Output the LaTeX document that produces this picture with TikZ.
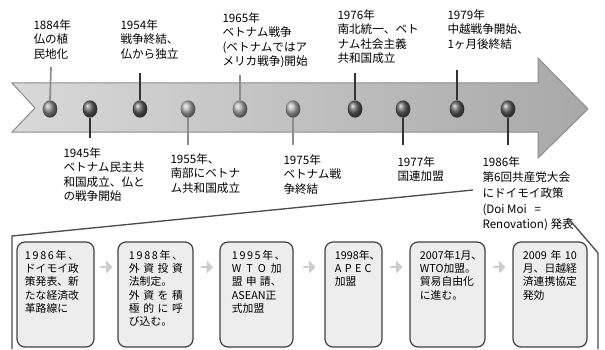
\documentclass[tikz,border=0pt]{standalone}
\usepackage{fontspec}
\newfontfamily\jpfont{Noto Sans CJK JP}
\usetikzlibrary{shapes.geometric,shapes.arrows,calc}
\newcommand\spr[2][5em]{\makebox[#1][s]{#2}}

\tikzset{every picture/.style={line width=0.75pt}}
\tikzset{
  lbl/.style={anchor=north west, inner sep=0.75pt, align=left, font=\jpfont\fontsize{8.7}{10.9}\selectfont},
  boxtxt/.style={anchor=north west, inner sep=0pt, align=left, font=\jpfont\fontsize{8.1}{10}\selectfont},
  ballD/.style={ellipse, minimum width=11pt, minimum height=13pt, inner sep=0pt, shading=ball, ball color=black!62},
  ballM/.style={ballD, ball color=black!45},
  ballL/.style={ballD, ball color=black!32},
  stemD/.style={draw=black!80, line width=1.3pt},
  stemL/.style={draw=black!45, line width=1.3pt},
  stepbox/.style={draw=black!75, line width=0.9pt, fill=black!7, rounded corners=6pt, minimum height=78.75pt, inner sep=0pt},
  steparrow/.style={single arrow, fill=black!20, inner sep=0pt, minimum width=9.5pt, minimum height=9pt, single arrow head extend=2.2pt, yshift=20.6pt},
  callout/.style={draw=black!70, line width=1pt}
}

\begin{document}
\begin{tikzpicture}[x=0.75pt,y=0.75pt,yscale=-1,xscale=1]
\useasboundingbox (0,0) rectangle (605,349);

%Shape: Arrow band
\shadedraw [left color=black!15, right color=black!34, draw=black!45] (12,83) -- (538,83) -- (538,58) -- (588,109) -- (538,158) -- (538,132) -- (12,132) -- (35,108) -- cycle ;

% Balls on the band
\node [ballM] (b1884) at (50,109) {};
\node [ballD] (b1945) at (90,109) {};
\node [ballD] (b1954) at (140,109) {};
\node [ballL] (b1955) at (188,109) {};
\node [ballL] (b1965) at (240,109) {};
\node [ballL] (b1975) at (293,109) {};
\node [ballD] (b1976) at (355,109) {};
\node [ballD] (b1977) at (403,109) {};
\node [ballD] (b1979) at (457,109) {};
\node [ballD] (b1986) at (508,109) {};

% Stem ends
\coordinate (s1884) at (51,67);
\coordinate (s1954) at (140,73);
\coordinate (s1965) at (240,75);
\coordinate (s1976) at (355,73);
\coordinate (s1979) at (457,70);
\coordinate (s1945) at (90,138);
\coordinate (s1955) at (188,145);
\coordinate (s1975) at (293,145);
\coordinate (s1977) at (403,145);
\coordinate (s1986) at (508,145);

%Straight Lines: stems
\draw [stemL] (s1884) -- (b1884.north) ;
\draw [stemD] (s1954) -- (b1954.north) ;
\draw [stemL] (s1965) -- (b1965.north) ;
\draw [stemD] (s1976) -- (b1976.north) ;
\draw [stemD] (s1979) -- (b1979.north) ;
\draw [stemD] (b1945.south) -- (s1945) ;
\draw [stemL] (b1955.south) -- (s1955) ;
\draw [stemL] (b1975.south) -- (s1975) ;
\draw [stemD] (b1977.south) -- (s1977) ;
\draw [stemD] (b1986.south) -- (s1986) ;

% Text Node
\draw (32,18) node [lbl] (t1884) {1884年\\仏の植\\民地化};
% Text Node
\draw (119,18) node [lbl] (t1954) {1954年\\戦争終結、\\仏から独立};
% Text Node
\draw (221,11) node [lbl] (t1965) {1965年\\ベトナム戦争\\(ベトナムではア\\メリカ戦争)開始};
% Text Node
\draw (336,8) node [lbl] (t1976) {1976年\\南北統一、ベト\\ナム社会主義\\共和国成立};
% Text Node
\draw (446,8) node [lbl] (t1979) {1979年\\中越戦争開始、\\1ヶ月後終結};
% Text Node
\draw (62,146) node [lbl] (t1945) {1945年\\ベトナム民主共\\和国成立、仏と\\の戦争開始};
% Text Node
\draw (169,152) node [lbl] (t1955) {1955年、\\南部にベトナ\\ム共和国成立};
% Text Node
\draw (282,153) node [lbl] (t1975) {1975年\\ベトナム戦\\争終結};
% Text Node
\draw (396,155) node [lbl] (t1977) {1977年\\国連加盟};
% Text Node
\draw (481,155) node [lbl, font=\jpfont\fontsize{8.7}{11.7}\selectfont] (t1986) {1986年\\第6回共産党大会\\にドイモイ政策\\(Doi Moi\ \ \ =\\Renovation) 発表};

% Callout frame
\coordinate (cl1) at (473,190);
\coordinate (cl2) at (12,236);
\coordinate (cl3) at (12,349);
\coordinate (cr1) at (568,218);
\coordinate (cr2) at (598,253);
\coordinate (cr3) at (598,349);
\draw [callout] (cl1) -- (cl2) -- (cl3) ;
\draw [callout] (cr1) -- (cr2) -- (cr3) ;

%Shape: Rounded boxes
\node [stepbox, minimum width=57.75pt] (box1) at (55.5,294.5) {};
\node [stepbox, minimum width=56.25pt] (box2) at (155.5,294.5) {};
\node [stepbox, minimum width=54.75pt] (box3) at (256.5,294.5) {};
\node [stepbox, minimum width=42.75pt] (box4) at (353.5,294.5) {};
\node [stepbox, minimum width=56.25pt] (box5) at (447.5,294.5) {};
\node [stepbox, minimum width=55.5pt] (box6) at (550,294.5) {};

% Box texts
\node [boxtxt] (x1986) at ($(box1.north west)+(8,8)$) {\spr{1 9 8 6 年 、}\\ドイモイ政\\策発表、新\\たな経済改\\革路線に};
\node [boxtxt] (x1988) at ($(box2.north west)+(11,8)$) {\spr{1 9 8 8 年 、}\\\spr{外 資 投 資}\\法制定。\\\spr{外 資 を 積}\\\spr{極 的 に 呼}\\び込む。};
\node [boxtxt] (x1995) at ($(box3.north west)+(12,8)$) {\spr[4.6em]{1 9 9 5 年 、}\\\spr[4.6em]{W T O 加}\\\spr[4.6em]{盟 申 請、}\\ASEAN正\\式加盟};
\node [boxtxt] (x1998) at ($(box4.north west)+(10,8)$) {1998年、\\\spr[3.4em]{A P E C}\\加盟};
\node [boxtxt] (x2007) at ($(box5.north west)+(10,8)$) {2007年1月、\\WTO加盟。\\貿易自由化\\に進む。};
\node [boxtxt] (x2009) at ($(box6.north west)+(10,8)$) {\spr{2009 年 10}\\月、日越経\\済連携協定\\発効};

%Shape: small arrows between boxes
\node [steparrow] (a12) at ($(box1.east)!0.5!(box2.west)$) {};
\node [steparrow] (a23) at ($(box2.east)!0.5!(box3.west)$) {};
\node [steparrow] (a34) at ($(box3.east)!0.5!(box4.west)$) {};
\node [steparrow] (a45) at ($(box4.east)!0.5!(box5.west)$) {};
\node [steparrow] (a56) at ($(box5.east)!0.5!(box6.west)$) {};

\end{tikzpicture}
\end{document}
